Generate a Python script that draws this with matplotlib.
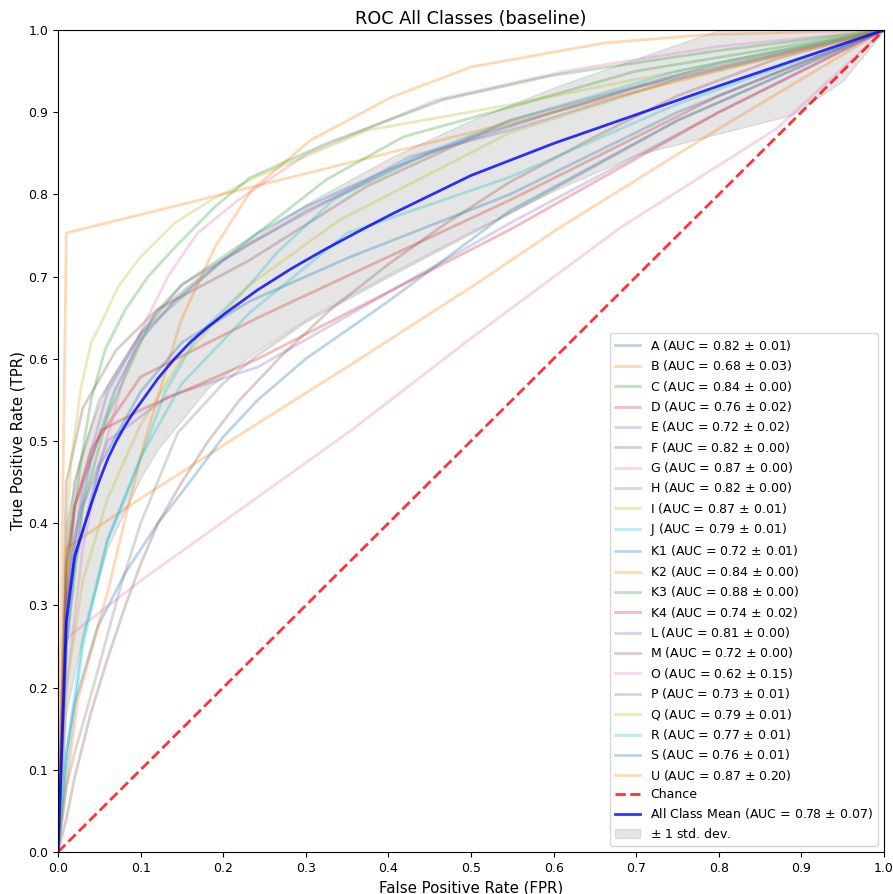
import matplotlib
matplotlib.use("Agg")
import matplotlib.pyplot as plt

# class names and AUC summaries (as shown in legend)
classes = ["A", "B", "C", "D", "E", "F", "G", "H", "I", "J", "K1", "K2",
           "K3", "K4", "L", "M", "O", "P", "Q", "R", "S", "U"]
auc_mean = [0.82, 0.68, 0.84, 0.76, 0.72, 0.82, 0.87, 0.82, 0.87, 0.79, 0.72, 0.84,
            0.88, 0.74, 0.81, 0.72, 0.62, 0.73, 0.79, 0.77, 0.76, 0.87]
auc_std = [0.01, 0.03, 0.00, 0.02, 0.02, 0.00, 0.00, 0.00, 0.01, 0.01, 0.01, 0.00,
           0.00, 0.02, 0.00, 0.00, 0.15, 0.01, 0.01, 0.01, 0.01, 0.20]

# per-class mean ROC points (fpr, tpr)
roc_A = [(0, 0), (0.0101, 0.30), (0.02, 0.38), (0.04, 0.477), (0.069, 0.562), (0.1, 0.623),
         (0.141, 0.671), (0.19, 0.712), (0.242, 0.753), (0.3, 0.785), (0.4, 0.83),
         (0.5, 0.87), (0.7, 0.93), (1, 1)]
roc_B = [(0, 0), (0.0101, 0.37), (0.1, 0.43), (0.224, 0.51), (0.35, 0.59), (0.5, 0.687),
         (0.608, 0.76), (0.8, 0.88), (1, 1)]
roc_C = [(0, 0), (0.0101, 0.25), (0.03, 0.42), (0.06, 0.53), (0.1, 0.62), (0.117, 0.655),
         (0.15, 0.69), (0.242, 0.753), (0.325, 0.818), (0.418, 0.87), (0.547, 0.906),
         (0.7, 0.95), (1, 1)]
roc_D = [(0, 0), (0.0101, 0.30), (0.02, 0.42), (0.04, 0.49), (0.1, 0.578), (0.242, 0.65),
         (0.547, 0.793), (0.8, 0.92), (1, 1)]
roc_E = [(0, 0), (0.0101, 0.30), (0.03, 0.42), (0.06, 0.50), (0.133, 0.554), (0.242, 0.59),
         (0.547, 0.765), (0.8, 0.90), (1, 1)]
roc_F = [(0, 0), (0.0101, 0.45), (0.03, 0.54), (0.07, 0.61), (0.12, 0.66), (0.232, 0.72),
         (0.374, 0.81), (0.547, 0.89), (0.75, 0.945), (1, 1)]
roc_G = [(0, 0), (0.0101, 0.20), (0.03, 0.37), (0.052, 0.477), (0.081, 0.582), (0.105, 0.643),
         (0.133, 0.70), (0.169, 0.753), (0.218, 0.793), (0.303, 0.85), (0.458, 0.915),
         (0.62, 0.951), (0.8, 0.98), (1, 1)]
roc_H = [(0, 0), (0.0101, 0.35), (0.02, 0.45), (0.05, 0.55), (0.1, 0.63), (0.2, 0.72),
         (0.3, 0.78), (0.45, 0.85), (0.6, 0.9), (0.8, 0.96), (1, 1)]
roc_I = [(0, 0), (0.0101, 0.38), (0.016, 0.477), (0.028, 0.566), (0.04, 0.619), (0.052, 0.643),
         (0.073, 0.688), (0.1, 0.724), (0.141, 0.765), (0.185, 0.793), (0.242, 0.822),
         (0.375, 0.878), (0.547, 0.909), (0.7, 0.94), (0.85, 0.97), (1, 1)]
roc_J = [(0, 0), (0.0101, 0.10), (0.03, 0.25), (0.06, 0.38), (0.093, 0.46), (0.13, 0.56),
         (0.17, 0.63), (0.232, 0.69), (0.265, 0.729), (0.333, 0.793), (0.434, 0.846),
         (0.547, 0.89), (0.75, 0.95), (1, 1)]
roc_K1 = [(0, 0), (0.0101, 0.12), (0.02, 0.18), (0.048, 0.274), (0.081, 0.339), (0.121, 0.40),
          (0.161, 0.452), (0.2, 0.505), (0.242, 0.55), (0.3, 0.60), (0.4, 0.67),
          (0.547, 0.78), (0.75, 0.89), (1, 1)]
roc_K2 = [(0, 0), (0.0101, 0.08), (0.024, 0.185), (0.044, 0.258), (0.061, 0.32), (0.08, 0.40),
          (0.105, 0.50), (0.149, 0.647), (0.19, 0.736), (0.234, 0.805), (0.306, 0.866),
          (0.403, 0.918), (0.5, 0.955), (0.66, 0.984), (0.78, 0.994), (1, 1)]
roc_K3 = [(0, 0), (0.0101, 0.33), (0.02, 0.416), (0.028, 0.477), (0.04, 0.55), (0.057, 0.611),
          (0.081, 0.659), (0.109, 0.70), (0.141, 0.735), (0.19, 0.785), (0.232, 0.82),
          (0.325, 0.862), (0.466, 0.915), (0.6, 0.945), (0.8, 0.975), (1, 1)]
roc_K4 = [(0, 0), (0.0101, 0.35), (0.02, 0.42), (0.052, 0.513), (0.105, 0.54), (0.242, 0.60),
          (0.547, 0.757), (0.8, 0.90), (1, 1)]
roc_L = [(0, 0), (0.0101, 0.30), (0.03, 0.45), (0.06, 0.56), (0.1, 0.63), (0.15, 0.69),
         (0.232, 0.74), (0.426, 0.846), (0.547, 0.878), (0.75, 0.94), (1, 1)]
roc_M = [(0, 0), (0.0101, 0.04), (0.02, 0.09), (0.04, 0.17), (0.06, 0.235), (0.081, 0.298),
         (0.1, 0.35), (0.121, 0.40), (0.15, 0.45), (0.182, 0.50), (0.22, 0.55),
         (0.272, 0.605), (0.33, 0.66), (0.4, 0.715), (0.47, 0.765), (0.547, 0.815),
         (0.65, 0.87), (0.75, 0.92), (0.87, 0.965), (1, 1)]
roc_O = [(0, 0), (0.0101, 0.26), (0.1, 0.33), (0.355, 0.513), (0.5, 0.625), (0.68, 0.759),
         (0.87, 0.88), (1, 1)]
roc_P = [(0, 0), (0.0101, 0.08), (0.02, 0.12), (0.048, 0.22), (0.075, 0.32), (0.1, 0.40),
         (0.145, 0.51), (0.2, 0.57), (0.242, 0.605), (0.3, 0.645), (0.4, 0.70),
         (0.547, 0.777), (0.75, 0.89), (1, 1)]
roc_Q = [(0, 0), (0.0101, 0.20), (0.03, 0.33), (0.06, 0.43), (0.1, 0.52), (0.15, 0.60),
         (0.232, 0.69), (0.341, 0.769), (0.547, 0.875), (0.75, 0.94), (1, 1)]
roc_R = [(0, 0), (0.0101, 0.12), (0.03, 0.26), (0.06, 0.38), (0.1, 0.48), (0.15, 0.57),
         (0.232, 0.656), (0.35, 0.753), (0.547, 0.821), (0.75, 0.91), (1, 1)]
roc_S = [(0, 0), (0.0101, 0.25), (0.02, 0.35), (0.05, 0.47), (0.1, 0.56), (0.15, 0.62),
         (0.232, 0.67), (0.354, 0.724), (0.547, 0.80), (0.75, 0.90), (1, 1)]
roc_U = [(0, 0), (0.0101, 0.753), (1, 1)]

class_rocs = [roc_A, roc_B, roc_C, roc_D, roc_E, roc_F, roc_G, roc_H, roc_I, roc_J, roc_K1,
              roc_K2, roc_K3, roc_K4, roc_L, roc_M, roc_O, roc_P, roc_Q, roc_R, roc_S, roc_U]

# all-class mean curve and +/- 1 std band
mean_fpr = [0, 0.0101, 0.0202, 0.0303, 0.0404, 0.0505, 0.0606, 0.0707, 0.0808, 0.0909,
            0.101, 0.121, 0.141, 0.161, 0.182, 0.202, 0.242, 0.283, 0.323, 0.364, 0.404,
            0.5, 0.6, 0.7, 0.8, 0.9, 1.0]
mean_tpr = [0, 0.28, 0.36, 0.392, 0.424, 0.453, 0.479, 0.500, 0.518, 0.534,
            0.548, 0.576, 0.600, 0.621, 0.639, 0.655, 0.684, 0.710, 0.733, 0.755, 0.776,
            0.823, 0.862, 0.897, 0.932, 0.966, 1.0]
band_fpr = [0, 0.0101, 0.024, 0.04, 0.06, 0.1, 0.121, 0.182, 0.242, 0.303, 0.403, 0.5,
            0.608, 0.7, 0.8, 0.89, 0.95, 0.983, 1.0]
band_upper = [0, 0.40, 0.47, 0.52, 0.57, 0.635, 0.66, 0.71, 0.75, 0.79, 0.845, 0.89,
              0.933, 0.965, 1.0, 1.0, 1.0, 1.0, 1.0]
band_lower = [0, 0.17, 0.237, 0.30, 0.37, 0.455, 0.49, 0.565, 0.61, 0.65, 0.705, 0.755,
              0.808, 0.848, 0.874, 0.897, 0.938, 0.978, 1.0]
mean_auc, std_auc = 0.78, 0.07

fig = plt.figure(figsize=(8.93, 8.94), dpi=100)
ax = fig.add_axes([58 / 893, 42 / 894, 826 / 893, 822 / 894])

for name, pts, m, s in zip(classes, class_rocs, auc_mean, auc_std):
    fpr = [p[0] for p in pts]
    tpr = [p[1] for p in pts]
    ax.plot(fpr, tpr, lw=2, alpha=0.3,
            label='%s (AUC = %0.2f $\\pm$ %0.2f)' % (name, m, s))

ax.plot([0, 1], [0, 1], linestyle='--', lw=2, color='r', label='Chance', alpha=.8)
ax.plot(mean_fpr, mean_tpr, color='b', lw=2, alpha=.8,
        label='All Class Mean (AUC = %0.2f $\\pm$ %0.2f)' % (mean_auc, std_auc))
ax.fill_between(band_fpr, band_lower, band_upper, color='grey', alpha=.2,
                label='$\\pm$ 1 std. dev.')

ax.set_xlim([0, 1])
ax.set_ylim([0, 1])
ax.set_xticks([i / 10 for i in range(11)])
ax.set_yticks([i / 10 for i in range(11)])
ax.tick_params(labelsize=9)
ax.set_xlabel('False Positive Rate (FPR)', fontsize=10.8)
ax.set_ylabel('True Positive Rate (TPR)', fontsize=10.8, labelpad=2)
ax.set_title('ROC All Classes (baseline)', fontsize=12.7, pad=4)
ax.legend(loc="lower right", fontsize=9, labelspacing=0.43)

fig.savefig("out.png", dpi=100)
